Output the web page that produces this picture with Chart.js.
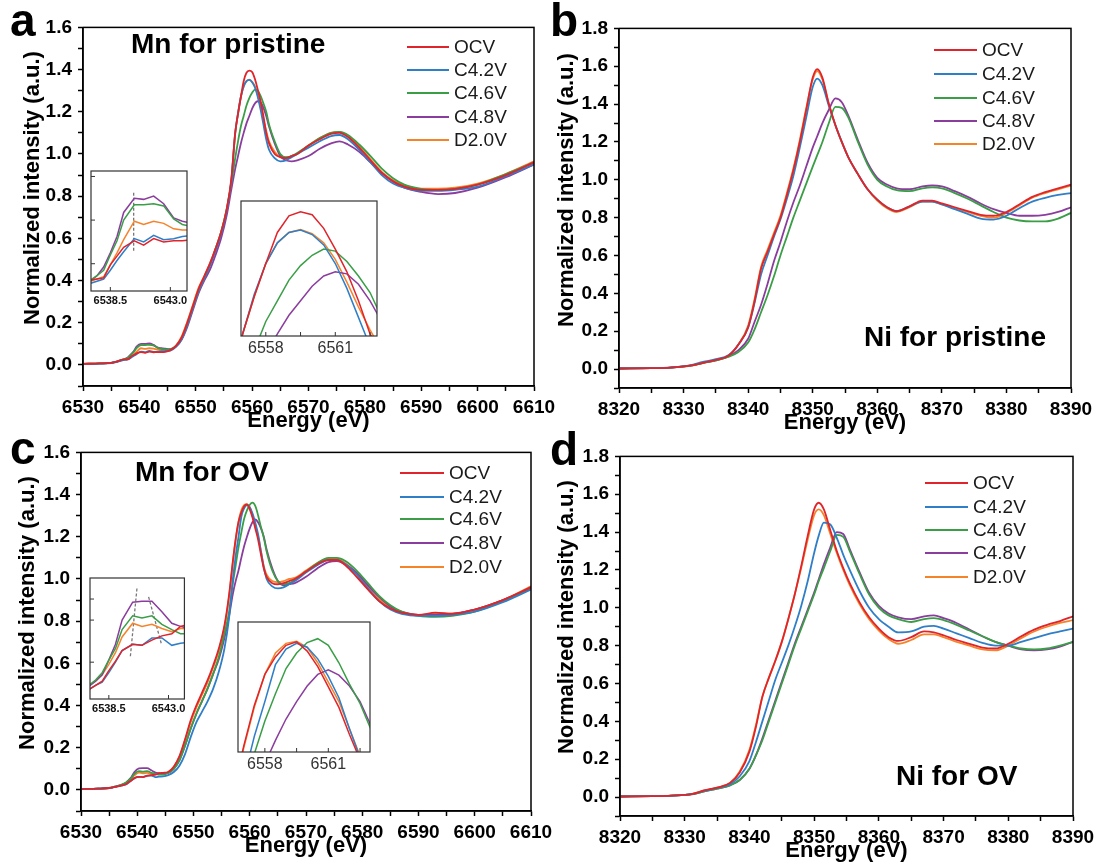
<!DOCTYPE html>
<html>
<head>
<meta charset="utf-8">
<script src="https://cdn.jsdelivr.net/npm/chart.js@4.4.0/dist/chart.umd.min.js"></script>
<style>
  body { margin: 0; background: #fff; }
  #fig { position: relative; width: 1100px; height: 868px; overflow: hidden; font-family: "Liberation Sans", Arial, sans-serif; }
  #fig canvas, #fig .txt { position: absolute; }
  .txt { white-space: nowrap; color: #000; }
</style>
</head>
<body>
<div id="fig"></div>
<script>
// series names and colours (same order in every panel)
const NAMES = ['OCV', 'C4.2V', 'C4.6V', 'C4.8V', 'D2.0V'];
const COLORS = ['#e0242b', '#2f7ec8', '#3a9e46', '#8b3d9e', '#f5832a'];

// Mn K-edge energies (eV)
const energyMn = [6530, 6533, 6535, 6536, 6537, 6537.5, 6538, 6538.5, 6539, 6539.5,
  6540.3, 6541, 6541.75, 6542.5, 6543.25, 6543.9, 6544.6, 6545.5, 6546.5, 6547.5,
  6548.5, 6549.5, 6550.5, 6551.5, 6552.5, 6553.5, 6554.5, 6555.5, 6556.3, 6557,
  6557.5, 6558, 6558.5, 6559, 6559.5, 6560, 6560.5, 6561, 6561.5, 6562,
  6562.5, 6563, 6564, 6565, 6566, 6567, 6568, 6570, 6572, 6574,
  6575.5, 6577, 6579, 6581, 6583, 6585, 6587, 6590, 6593, 6596,
  6600, 6605, 6610];

// panel a: Mn for pristine
const aOCV = [0.005, 0.007, 0.010, 0.016, 0.025, 0.026, 0.027, 0.039, 0.047, 0.055,
  0.061, 0.057, 0.063, 0.060, 0.061, 0.061, 0.062, 0.070, 0.090, 0.130,
  0.200, 0.280, 0.360, 0.420, 0.480, 0.550, 0.630, 0.740, 0.880, 1.100,
  1.190, 1.270, 1.345, 1.385, 1.395, 1.388, 1.355, 1.305, 1.250, 1.180,
  1.100, 1.050, 1.000, 0.985, 0.980, 0.990, 1.000, 1.040, 1.070, 1.095,
  1.100, 1.080, 1.030, 0.970, 0.910, 0.870, 0.845, 0.830, 0.830, 0.835,
  0.855, 0.900, 0.960];
const aC42 = [0.004, 0.006, 0.009, 0.014, 0.022, 0.024, 0.026, 0.034, 0.043, 0.051,
  0.063, 0.060, 0.066, 0.062, 0.063, 0.065, 0.066, 0.068, 0.085, 0.120,
  0.190, 0.270, 0.350, 0.410, 0.470, 0.540, 0.620, 0.730, 0.870, 1.100,
  1.195, 1.270, 1.320, 1.345, 1.351, 1.340, 1.315, 1.270, 1.210, 1.140,
  1.070, 1.020, 0.980, 0.965, 0.970, 0.985, 1.000, 1.030, 1.060, 1.085,
  1.090, 1.070, 1.020, 0.960, 0.900, 0.860, 0.840, 0.825, 0.825, 0.830,
  0.845, 0.895, 0.950];
const aC46 = [0.005, 0.007, 0.010, 0.016, 0.025, 0.029, 0.034, 0.048, 0.061, 0.080,
  0.094, 0.094, 0.095, 0.093, 0.081, 0.076, 0.074, 0.075, 0.090, 0.125,
  0.190, 0.270, 0.350, 0.410, 0.470, 0.550, 0.630, 0.740, 0.860, 0.980,
  1.060, 1.130, 1.180, 1.230, 1.265, 1.290, 1.305, 1.300, 1.275, 1.240,
  1.200, 1.140, 1.060, 1.000, 0.985, 0.990, 1.005, 1.040, 1.075, 1.100,
  1.105, 1.090, 1.045, 0.990, 0.930, 0.885, 0.855, 0.835, 0.830, 0.835,
  0.855, 0.905, 0.960];
const aC48 = [0.005, 0.007, 0.010, 0.016, 0.024, 0.029, 0.037, 0.050, 0.065, 0.087,
  0.100, 0.099, 0.102, 0.095, 0.082, 0.079, 0.077, 0.075, 0.088, 0.120,
  0.180, 0.260, 0.340, 0.400, 0.450, 0.520, 0.600, 0.710, 0.830, 0.930,
  0.990, 1.050, 1.100, 1.145, 1.180, 1.215, 1.240, 1.250, 1.245, 1.220,
  1.180, 1.130, 1.050, 0.990, 0.970, 0.965, 0.970, 0.990, 1.025, 1.050,
  1.060, 1.045, 1.010, 0.960, 0.910, 0.870, 0.840, 0.820, 0.810, 0.815,
  0.840, 0.890, 0.950];
const aD20 = [0.005, 0.007, 0.010, 0.016, 0.024, 0.026, 0.028, 0.039, 0.050, 0.062,
  0.079, 0.076, 0.079, 0.077, 0.072, 0.071, 0.071, 0.072, 0.092, 0.135,
  0.205, 0.285, 0.365, 0.420, 0.480, 0.550, 0.630, 0.740, 0.870, 1.100,
  1.190, 1.270, 1.320, 1.345, 1.352, 1.342, 1.320, 1.280, 1.225, 1.165,
  1.110, 1.060, 1.010, 0.985, 0.980, 0.990, 1.000, 1.040, 1.075, 1.100,
  1.105, 1.085, 1.035, 0.975, 0.915, 0.875, 0.850, 0.835, 0.835, 0.840,
  0.860, 0.905, 0.965];

// panel c: Mn for OV
const cOCV = [0.004, 0.006, 0.009, 0.014, 0.019, 0.023, 0.027, 0.037, 0.046, 0.056,
  0.062, 0.061, 0.066, 0.070, 0.072, 0.079, 0.081, 0.085, 0.110, 0.160,
  0.240, 0.330, 0.400, 0.460, 0.520, 0.590, 0.670, 0.780, 0.920, 1.085,
  1.190, 1.270, 1.315, 1.345, 1.354, 1.330, 1.290, 1.238, 1.185, 1.115,
  1.050, 1.010, 0.980, 0.975, 0.980, 0.990, 1.000, 1.035, 1.070, 1.090,
  1.090, 1.065, 1.010, 0.950, 0.895, 0.860, 0.840, 0.830, 0.840, 0.835,
  0.855, 0.900, 0.960];
const cC42 = [0.004, 0.006, 0.009, 0.014, 0.019, 0.023, 0.026, 0.035, 0.045, 0.056,
  0.062, 0.061, 0.068, 0.068, 0.061, 0.063, 0.064, 0.070, 0.085, 0.115,
  0.170, 0.250, 0.320, 0.370, 0.420, 0.480, 0.560, 0.670, 0.810, 1.000,
  1.110, 1.200, 1.295, 1.335, 1.350, 1.340, 1.310, 1.265, 1.210, 1.130,
  1.055, 1.000, 0.965, 0.955, 0.960, 0.975, 0.990, 1.030, 1.065, 1.090,
  1.090, 1.070, 1.020, 0.955, 0.895, 0.855, 0.835, 0.825, 0.825, 0.830,
  0.845, 0.890, 0.950];
const cC46 = [0.004, 0.006, 0.009, 0.015, 0.023, 0.028, 0.035, 0.047, 0.058, 0.076,
  0.089, 0.087, 0.089, 0.081, 0.076, 0.072, 0.072, 0.080, 0.100, 0.140,
  0.210, 0.290, 0.360, 0.420, 0.480, 0.550, 0.630, 0.740, 0.840, 0.980,
  1.065, 1.150, 1.220, 1.285, 1.325, 1.352, 1.362, 1.345, 1.300, 1.245,
  1.195, 1.130, 1.040, 0.990, 0.975, 0.980, 0.995, 1.035, 1.075, 1.100,
  1.100, 1.085, 1.040, 0.980, 0.920, 0.875, 0.845, 0.825, 0.820, 0.825,
  0.845, 0.895, 0.955];
const cC48 = [0.004, 0.006, 0.009, 0.015, 0.022, 0.027, 0.033, 0.047, 0.062, 0.085,
  0.102, 0.103, 0.103, 0.093, 0.082, 0.079, 0.077, 0.080, 0.100, 0.140,
  0.210, 0.290, 0.360, 0.420, 0.480, 0.550, 0.620, 0.720, 0.820, 0.930,
  0.990, 1.040, 1.100, 1.155, 1.200, 1.240, 1.270, 1.282, 1.268, 1.240,
  1.200, 1.140, 1.050, 0.990, 0.970, 0.975, 0.980, 1.010, 1.050, 1.080,
  1.085, 1.070, 1.030, 0.970, 0.915, 0.870, 0.845, 0.830, 0.830, 0.835,
  0.855, 0.900, 0.960];
const cD20 = [0.004, 0.006, 0.009, 0.015, 0.023, 0.027, 0.033, 0.043, 0.054, 0.069,
  0.082, 0.079, 0.081, 0.077, 0.074, 0.077, 0.077, 0.085, 0.110, 0.155,
  0.235, 0.320, 0.390, 0.450, 0.510, 0.580, 0.660, 0.770, 0.910, 1.080,
  1.185, 1.270, 1.325, 1.350, 1.355, 1.340, 1.300, 1.250, 1.200, 1.130,
  1.060, 1.020, 0.990, 0.985, 0.990, 1.000, 1.005, 1.040, 1.075, 1.095,
  1.095, 1.075, 1.025, 0.960, 0.905, 0.865, 0.840, 0.830, 0.835, 0.835,
  0.855, 0.900, 0.965];

// Ni K-edge energies (eV)
const energyNi = [8320, 8325, 8328, 8331, 8333, 8335, 8337, 8338.5, 8340, 8341,
  8342, 8343, 8344, 8345, 8346, 8347, 8348, 8349, 8350, 8350.7,
  8351.5, 8352.5, 8353.5, 8354.5, 8355.5, 8357, 8358.5, 8360, 8361.5, 8363,
  8365, 8367, 8368.5, 8370, 8372, 8374, 8376, 8378, 8380, 8382,
  8384, 8386, 8388, 8390];

// panel b: Ni for pristine
const bOCV = [0.003, 0.005, 0.008, 0.018, 0.033, 0.048, 0.072, 0.130, 0.220, 0.360,
  0.530, 0.620, 0.710, 0.800, 0.920, 1.050, 1.200, 1.370, 1.540, 1.585,
  1.540, 1.400, 1.290, 1.200, 1.120, 1.030, 0.950, 0.895, 0.855, 0.835,
  0.860, 0.890, 0.890, 0.875, 0.855, 0.835, 0.815, 0.810, 0.830, 0.870,
  0.910, 0.935, 0.955, 0.975];
const bC42 = [0.003, 0.005, 0.009, 0.020, 0.038, 0.052, 0.075, 0.130, 0.220, 0.350,
  0.500, 0.600, 0.700, 0.790, 0.900, 1.020, 1.170, 1.330, 1.490, 1.535,
  1.500, 1.390, 1.290, 1.200, 1.120, 1.030, 0.950, 0.895, 0.855, 0.835,
  0.860, 0.885, 0.885, 0.870, 0.845, 0.820, 0.795, 0.790, 0.810, 0.850,
  0.885, 0.905, 0.920, 0.930];
const bC46 = [0.003, 0.005, 0.008, 0.018, 0.033, 0.046, 0.065, 0.090, 0.140, 0.210,
  0.300, 0.390, 0.490, 0.600, 0.700, 0.800, 0.890, 0.980, 1.070, 1.130,
  1.200, 1.300, 1.385, 1.380, 1.330, 1.200, 1.080, 1.000, 0.965, 0.945,
  0.940, 0.955, 0.960, 0.955, 0.930, 0.900, 0.865, 0.830, 0.800, 0.785,
  0.780, 0.780, 0.795, 0.825];
const bC48 = [0.003, 0.005, 0.008, 0.018, 0.033, 0.046, 0.068, 0.100, 0.160, 0.250,
  0.340, 0.450, 0.570, 0.670, 0.780, 0.880, 0.970, 1.070, 1.170, 1.230,
  1.300, 1.370, 1.430, 1.410, 1.340, 1.210, 1.090, 1.010, 0.975, 0.955,
  0.950, 0.965, 0.970, 0.965, 0.940, 0.910, 0.875, 0.845, 0.825, 0.810,
  0.810, 0.815, 0.830, 0.855];
const bD20 = [0.003, 0.005, 0.008, 0.017, 0.032, 0.047, 0.070, 0.130, 0.230, 0.370,
  0.540, 0.630, 0.720, 0.810, 0.930, 1.060, 1.210, 1.380, 1.530, 1.575,
  1.530, 1.400, 1.290, 1.200, 1.120, 1.030, 0.950, 0.890, 0.850, 0.830,
  0.855, 0.885, 0.885, 0.870, 0.850, 0.830, 0.810, 0.800, 0.825, 0.865,
  0.905, 0.930, 0.950, 0.970];

// panel d: Ni for OV
const dOCV = [0.003, 0.005, 0.008, 0.015, 0.035, 0.050, 0.075, 0.130, 0.240, 0.370,
  0.530, 0.630, 0.720, 0.820, 0.940, 1.070, 1.220, 1.380, 1.520, 1.555,
  1.520, 1.410, 1.300, 1.210, 1.130, 1.030, 0.950, 0.890, 0.845, 0.825,
  0.845, 0.875, 0.870, 0.855, 0.830, 0.810, 0.790, 0.785, 0.810, 0.850,
  0.885, 0.910, 0.930, 0.955];
const dC42 = [0.003, 0.005, 0.008, 0.015, 0.033, 0.048, 0.068, 0.110, 0.190, 0.290,
  0.400, 0.510, 0.620, 0.710, 0.800, 0.900, 1.010, 1.140, 1.290, 1.380,
  1.450, 1.440, 1.370, 1.280, 1.200, 1.090, 1.000, 0.940, 0.900, 0.870,
  0.875, 0.900, 0.905, 0.890, 0.865, 0.840, 0.815, 0.800, 0.800, 0.820,
  0.840, 0.860, 0.875, 0.890];
const dC46 = [0.003, 0.005, 0.008, 0.014, 0.030, 0.045, 0.062, 0.090, 0.150, 0.220,
  0.300, 0.400, 0.500, 0.600, 0.700, 0.800, 0.890, 0.980, 1.070, 1.140,
  1.210, 1.300, 1.385, 1.375, 1.300, 1.180, 1.070, 1.000, 0.960, 0.940,
  0.925, 0.940, 0.945, 0.935, 0.910, 0.880, 0.850, 0.820, 0.800, 0.785,
  0.780, 0.785, 0.800, 0.820];
const dC48 = [0.003, 0.005, 0.008, 0.014, 0.030, 0.045, 0.062, 0.090, 0.150, 0.220,
  0.310, 0.410, 0.510, 0.610, 0.710, 0.810, 0.900, 0.990, 1.080, 1.150,
  1.230, 1.320, 1.400, 1.390, 1.310, 1.190, 1.080, 1.010, 0.970, 0.950,
  0.940, 0.955, 0.960, 0.945, 0.920, 0.885, 0.850, 0.820, 0.800, 0.780,
  0.775, 0.780, 0.795, 0.820];
const dD20 = [0.003, 0.005, 0.008, 0.016, 0.035, 0.050, 0.075, 0.135, 0.250, 0.380,
  0.530, 0.630, 0.720, 0.820, 0.940, 1.070, 1.210, 1.360, 1.490, 1.520,
  1.490, 1.390, 1.290, 1.200, 1.120, 1.020, 0.940, 0.880, 0.835, 0.810,
  0.830, 0.860, 0.860, 0.845, 0.820, 0.800, 0.780, 0.775, 0.800, 0.840,
  0.875, 0.900, 0.920, 0.935];

// dashed guide lines in the pre-edge insets (energy, intensity)
const aGuideX = [6540.25, 6540.25];
const aGuideY = [0.105, 0.052];
const cGuide1X = [6540.62, 6540.12];
const cGuide1Y = [0.115, 0.050];
const cGuide2X = [6541.5, 6542.45];
const cGuide2Y = [0.107, 0.063];

// inset tick values
const preEdgeTicks = [6538.5, 6543.0];
const peakTicks = [6558, 6559.5, 6561, 6562.5];
const peakLabels = [6558, 6561];

Chart.defaults.font.family = '"Liberation Sans", Arial, sans-serif';
Chart.defaults.color = '#000';

const fig = document.getElementById('fig');

function addCanvas(left, top, w, h) {
  const cv = document.createElement('canvas');
  cv.width = w; cv.height = h;
  cv.style.left = left + 'px'; cv.style.top = top + 'px';
  cv.style.width = w + 'px'; cv.style.height = h + 'px';
  fig.appendChild(cv);
  return cv;
}

function addText(str, x, cy, size, weight, color) {
  const d = document.createElement('div');
  d.className = 'txt';
  d.textContent = str;
  d.style.left = x + 'px';
  d.style.top = (cy - 0.588 * size) + 'px';
  d.style.fontSize = size + 'px';
  d.style.lineHeight = (1.2 * size) + 'px';
  d.style.fontWeight = weight;
  if (color) d.style.color = color;
  fig.appendChild(d);
  return d;
}

// rotated y-axis title centred on (cx, cy)
function addYTitle(cx, cy) {
  const d = document.createElement('div');
  d.className = 'txt';
  d.textContent = 'Normalized intensity (a.u.)';
  d.style.left = cx + 'px';
  d.style.top = cy + 'px';
  d.style.fontSize = '22px';
  d.style.lineHeight = '26px';
  d.style.fontWeight = 'bold';
  d.style.transform = 'translate(-50%, -50%) rotate(-90deg)';
  fig.appendChild(d);
}

// black box around the plot area (and optional white fill for insets)
const framePlugin = {
  id: 'frame',
  beforeDraw(chart, args, o) {
    if (!o.fill) return;
    const a = chart.chartArea, ctx = chart.ctx;
    ctx.save();
    ctx.fillStyle = '#fff';
    ctx.fillRect(a.left, a.top, a.right - a.left, a.bottom - a.top);
    ctx.restore();
  },
  afterDraw(chart, args, o) {
    const a = chart.chartArea, ctx = chart.ctx;
    ctx.save();
    ctx.strokeStyle = o.color || '#000';
    ctx.lineWidth = o.width || 1.5;
    ctx.strokeRect(a.left, a.top, a.right - a.left, a.bottom - a.top);
    ctx.restore();
  }
};

// short inward ticks for the insets
const innerTicks = {
  id: 'innerTicks',
  afterDraw(chart, args, o) {
    const {ctx, chartArea: a, scales} = chart;
    ctx.save();
    ctx.strokeStyle = '#333';
    ctx.lineWidth = 1;
    (o.x || []).forEach(v => {
      const px = scales.x.getPixelForValue(v);
      ctx.beginPath(); ctx.moveTo(px, a.bottom); ctx.lineTo(px, a.bottom - 4); ctx.stroke();
    });
    (o.y || []).forEach(v => {
      const py = scales.y.getPixelForValue(v);
      ctx.beginPath(); ctx.moveTo(a.left, py); ctx.lineTo(a.left + 4, py); ctx.stroke();
    });
    ctx.restore();
  }
};

function makeSets(energy, series, width, smooth) {
  return series.map((s, i) => ({
    label: NAMES[i],
    data: energy.map((e, j) => ({x: e, y: s[j]})),
    borderColor: COLORS[i],
    borderWidth: width,
    pointRadius: 0,
    fill: false,
    cubicInterpolationMode: smooth ? 'monotone' : 'default',
    tension: 0
  }));
}

function mainChart(box, energy, series, xMin, xMax, yMax, yWidth) {
  const padTop = 12, padRight = 28, xHeight = 48;
  const left = box.l - yWidth, top = box.t - padTop;
  const w = (box.r - box.l) + yWidth + padRight;
  const h = (box.b - box.t) + padTop + xHeight;
  const cv = addCanvas(left, top, w, h);
  const tickGrid = {display: true, drawOnChartArea: false, drawTicks: true, tickLength: 5, tickColor: '#000', tickWidth: 1.5};
  new Chart(cv, {
    type: 'line',
    data: {datasets: makeSets(energy, series, 1.8, true)},
    plugins: [framePlugin],
    options: {
      responsive: false,
      animation: false,
      layout: {padding: {top: padTop, right: padRight, left: 0, bottom: 0}},
      plugins: {legend: {display: false}, tooltip: {enabled: false}, frame: {width: 1.5}},
      scales: {
        x: {
          type: 'linear', min: xMin, max: xMax,
          ticks: {stepSize: 5, autoSkip: false, maxRotation: 0, padding: 5,
            font: {size: 19, weight: 'bold'}, color: '#000',
            callback: v => (v % 10 === 0 ? String(v) : '')},
          grid: tickGrid,
          border: {display: true, color: '#000', width: 1.5},
          title: {display: true, text: 'Energy (eV)', font: {size: 22, weight: 'bold'}, color: '#000', padding: 0},
          afterFit: s => { s.height = xHeight; }
        },
        y: {
          type: 'linear', min: -0.1, max: yMax,
          ticks: {stepSize: 0.1, autoSkip: false, padding: 6,
            font: {size: 19, weight: 'bold'}, color: '#000',
            callback: v => { const k = Math.round(v * 10); return (k >= 0 && k % 2 === 0) ? (k / 10).toFixed(1) : ''; }},
          grid: tickGrid,
          border: {display: true, color: '#000', width: 1.5},
          afterFit: s => { s.width = yWidth; }
        }
      }
    }
  });
}

function insetChart(box, energy, series, xMin, xMax, yMin, yMax, ticks, labels, labelFont, labelColor, extra, innerY) {
  const pad = 4, labH = labelFont.size + 8;
  const cv = addCanvas(box.l - pad, box.t - pad, (box.r - box.l) + 2 * pad, (box.b - box.t) + pad + labH);
  const sets = makeSets(energy, series, 1.5, false);
  (extra || []).forEach(g => sets.push({
    data: g.x.map((x, i) => ({x: x, y: g.y[i]})),
    borderColor: '#777', borderWidth: 1.3, borderDash: [3, 2], pointRadius: 0, fill: false
  }));
  new Chart(cv, {
    type: 'line',
    data: {datasets: sets},
    plugins: [framePlugin, innerTicks],
    options: {
      responsive: false,
      animation: false,
      layout: {padding: {top: pad, right: pad, left: pad, bottom: 0}},
      plugins: {legend: {display: false}, tooltip: {enabled: false},
        frame: {width: 1.2, color: '#333', fill: true},
        innerTicks: {x: ticks, y: innerY || []}},
      scales: {
        x: {
          type: 'linear', min: xMin, max: xMax,
          afterBuildTicks: s => { s.ticks = ticks.map(v => ({value: v})); },
          ticks: {autoSkip: false, maxRotation: 0, padding: 3, font: labelFont, color: labelColor,
            callback: v => (labels.includes(v) ? v.toFixed(labelFont.weight === 'bold' ? 1 : 0) : '')},
          grid: {display: false, drawTicks: false},
          border: {display: false},
          afterFit: s => { s.height = labH; }
        },
        y: {type: 'linear', min: yMin, max: yMax, display: false}
      }
    }
  });
}

function legend(lineX, textX, rows) {
  NAMES.forEach((n, i) => {
    const d = document.createElement('div');
    d.className = 'txt';
    d.style.left = lineX + 'px';
    d.style.top = (rows[i] - 1) + 'px';
    d.style.width = (textX - lineX - 5) + 'px';
    d.style.height = '0px';
    d.style.borderTop = '2px solid ' + COLORS[i];
    fig.appendChild(d);
    addText(n, textX, rows[i], 19, 'normal', '#1a1a1a');
  });
}

// main panels
mainChart({l: 83, t: 22, r: 534, b: 386}, energyMn, [aOCV, aC42, aC46, aC48, aD20], 6530, 6610, 1.6, 62);
mainChart({l: 619, t: 23, r: 1071, b: 388}, energyNi, [bOCV, bC42, bC46, bC48, bD20], 8320, 8390, 1.8, 63);
mainChart({l: 81, t: 447, r: 531, b: 811}, energyMn, [cOCV, cC42, cC46, cC48, cD20], 6530, 6610, 1.6, 65);
mainChart({l: 620, t: 451, r: 1073, b: 816}, energyNi, [dOCV, dC42, dC46, dC48, dD20], 8320, 8390, 1.8, 64);

// y-axis titles
addYTitle(32, 188);
addYTitle(566, 190);
addYTitle(27, 613);
addYTitle(566, 617);

// insets
const smallBold = {size: 11, weight: 'bold'};
const peakFont = {size: 16, weight: 'normal'};
insetChart({l: 91, t: 171, r: 187, b: 291}, energyMn, [aOCV, aC42, aC46, aC48, aD20],
  6537.05, 6544.25, 0.015, 0.125, preEdgeTicks, preEdgeTicks, smallBold, '#111',
  [{x: aGuideX, y: aGuideY}], [0.04, 0.08, 0.12]);
insetChart({l: 241, t: 201, r: 377, b: 336}, energyMn, [aOCV, aC42, aC46, aC48, aD20],
  6556.93, 6562.8, 1.095, 1.421, peakTicks, peakLabels, peakFont, '#333');
insetChart({l: 90, t: 578, r: 185, b: 699}, energyMn, [cOCV, cC42, cC46, cC48, cD20],
  6537.08, 6544.2, 0.01, 0.125, preEdgeTicks, preEdgeTicks, smallBold, '#111',
  [{x: cGuide1X, y: cGuide1Y}, {x: cGuide2X, y: cGuide2Y}], [0.045, 0.085, 0.105]);
insetChart({l: 238, t: 622, r: 370, b: 752}, energyMn, [cOCV, cC42, cC46, cC48, cD20],
  6556.73, 6562.97, 1.07, 1.405, peakTicks, peakLabels, peakFont, '#333');

// legends
legend(407, 454, [47, 70, 93, 117, 140]);
legend(934, 982, [50, 74, 98, 121, 144]);
legend(400, 449, [473, 497, 519, 543, 567]);
legend(925, 973, [483, 507, 530, 553, 577]);

// panel titles and letters
addText('Mn for pristine', 131, 43, 28, 'bold');
addText('Ni for pristine', 864, 336, 28, 'bold');
addText('Mn for OV', 135, 471, 28, 'bold');
addText('Ni for OV', 896, 775, 28, 'bold');
addText('a', 10, 20, 46, 'bold');
addText('b', 550, 20, 46, 'bold');
addText('c', 10, 448, 46, 'bold');
addText('d', 550, 449, 46, 'bold');
</script>
</body>
</html>
